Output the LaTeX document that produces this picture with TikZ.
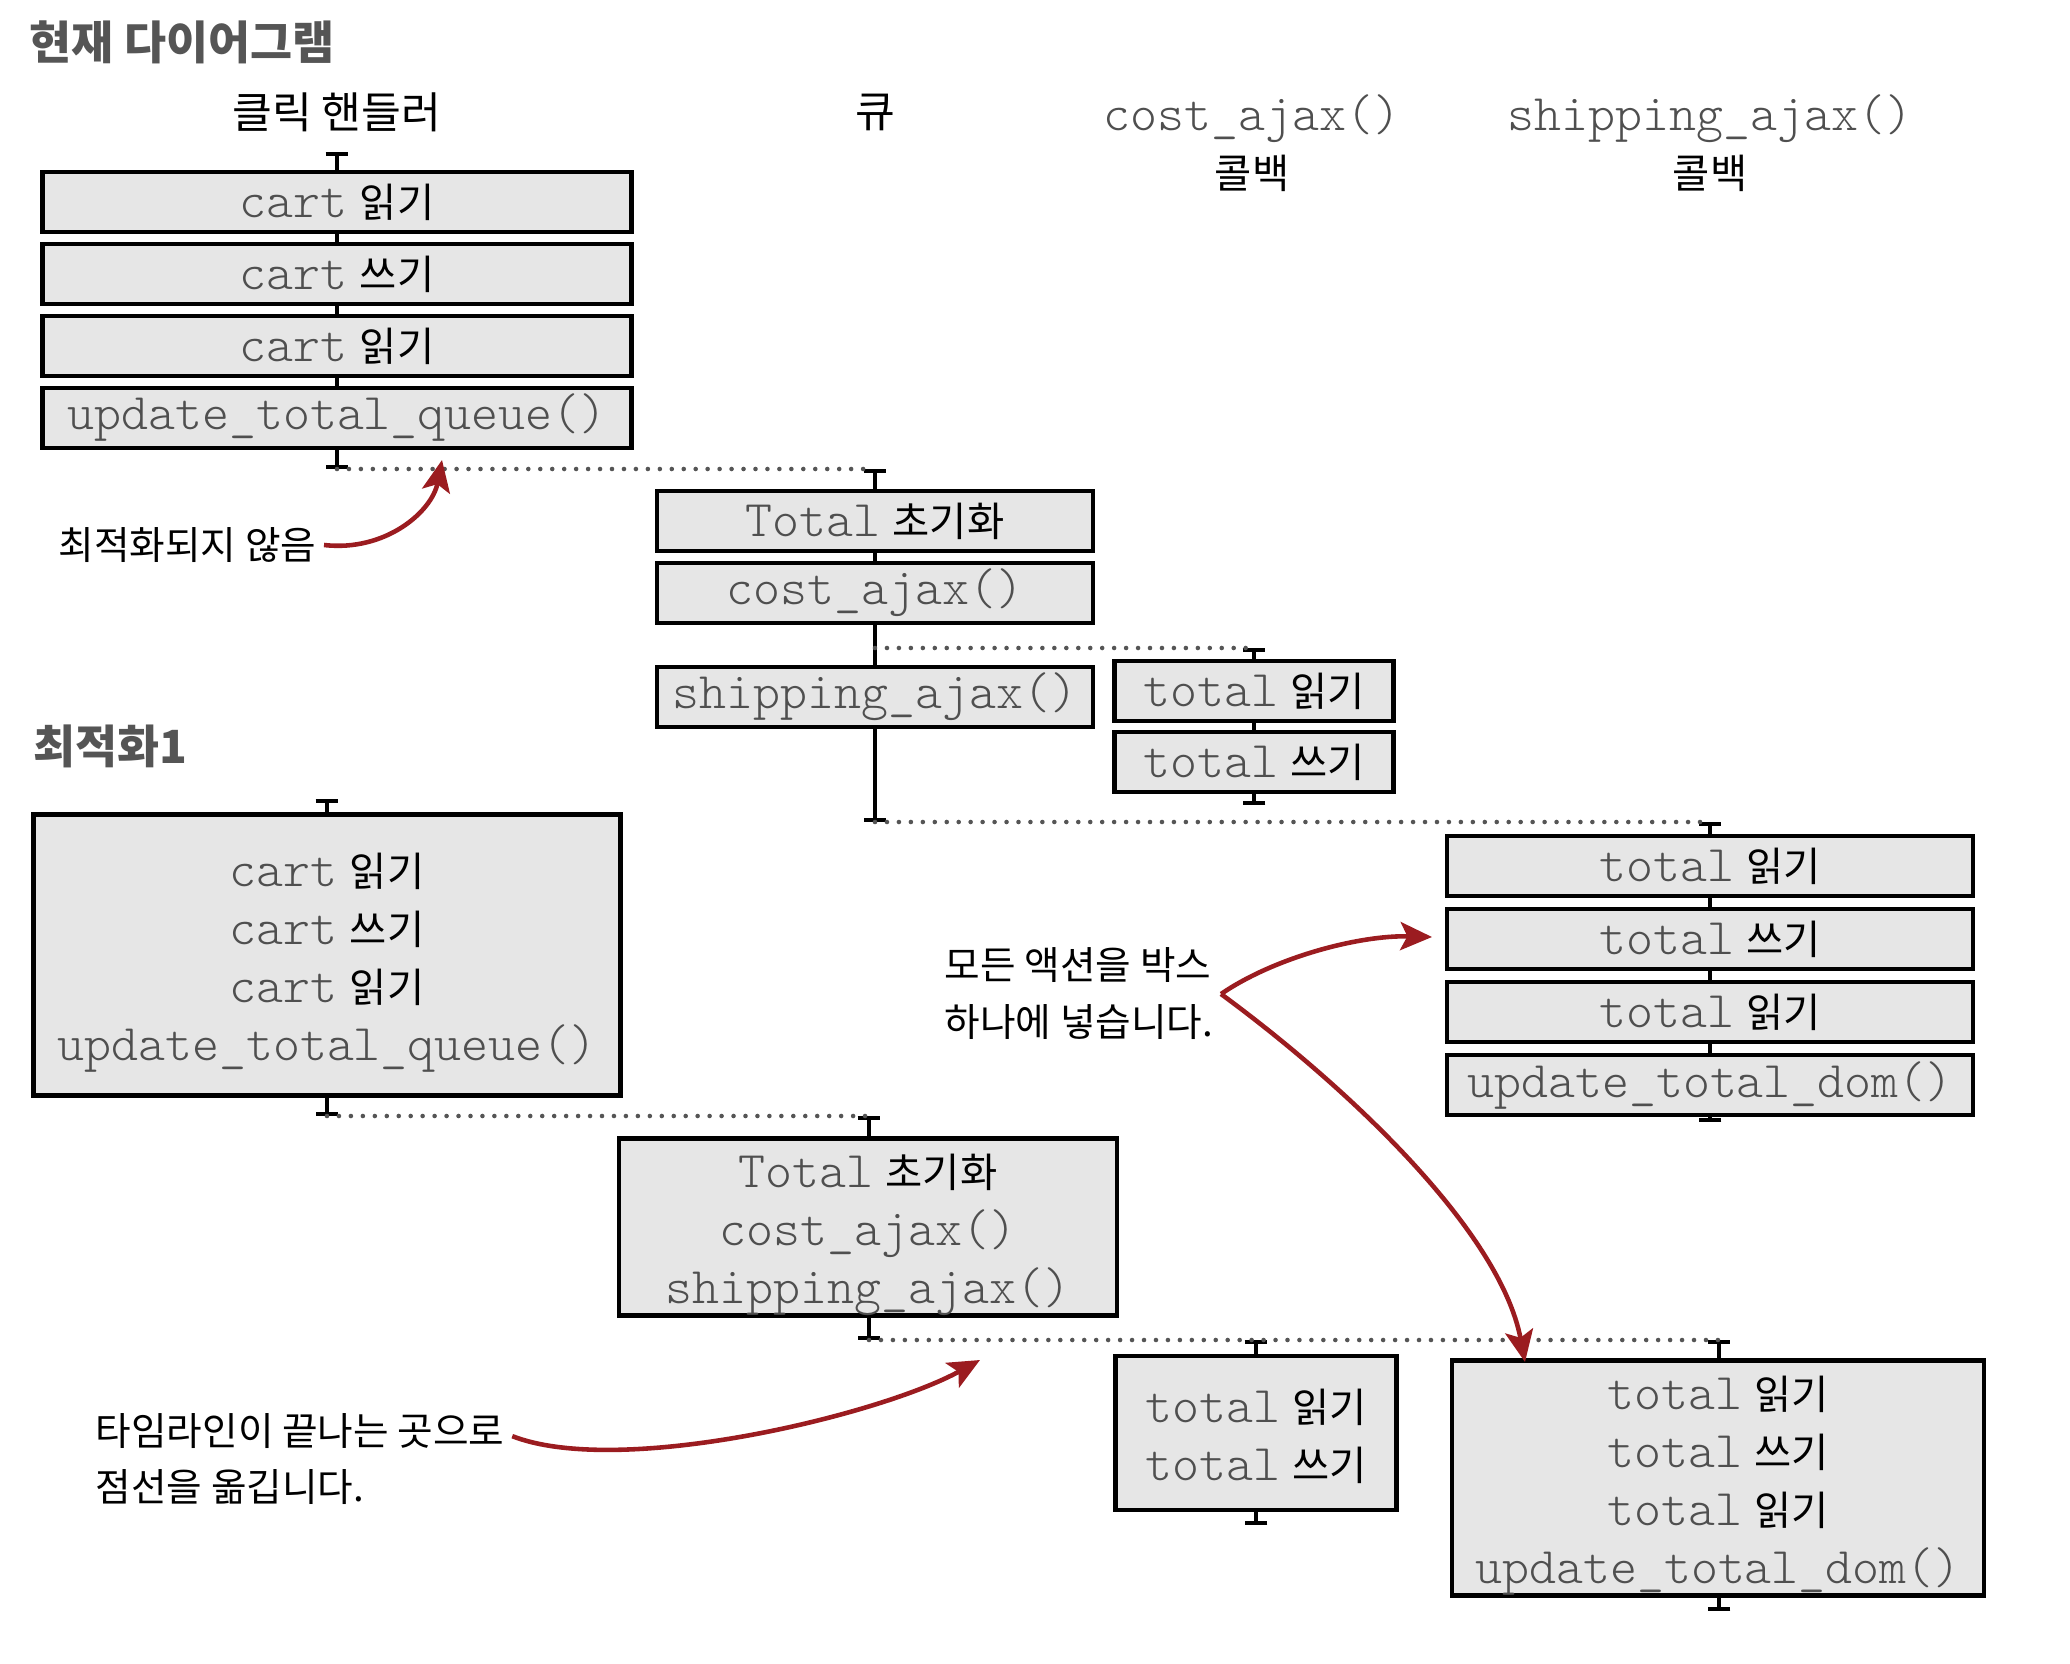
\documentclass[tikz,border=0pt]{standalone}
\usepackage{fontspec}
\setmainfont{Noto Sans CJK KR}
\newfontfamily\codefont[Scale=1.27]{Latin Modern Mono Light}
\usepackage{xcolor}
\usetikzlibrary{positioning,arrows.meta}

\definecolor{boxgray}{HTML}{E6E6E6}
\definecolor{codegray}{HTML}{4F4F4F}
\definecolor{headgray}{HTML}{555555}
\definecolor{notered}{HTML}{9B1C20}
\newcommand{\codetxt}[1]{{\codefont\color{codegray}#1}\hspace{3.5pt}}
\newcommand{\padtop}[1]{\rule{0pt}{#1}}

\begin{document}
\begin{tikzpicture}[x=0.01cm, y=-0.01cm,
    font=\fontsize{11.5}{16.5}\selectfont,
    act/.style={draw=black, line width=1.3pt, fill=boxgray, inner sep=0pt,
        minimum height=0.6cm, align=center},
    lane/.style={line width=1.1pt, {Bar[width=6.5pt]}-{Bar[width=6.5pt]}},
    handoff/.style={draw=headgray, line width=1.3pt, line cap=round,
        dash pattern=on 0pt off 3.4pt},
    heading/.style={font=\fontsize{13}{15}\selectfont\bfseries, text=headgray,
        anchor=west, inner sep=0pt},
    colhead/.style={align=center, inner sep=0pt},
    note/.style={font=\fontsize{11}{16.2}\selectfont, align=left, inner sep=2pt},
    pointer/.style={draw=notered, line width=1.3pt,
        -{Stealth[length=9pt, width=8pt, inset=2pt]}}]

    \useasboundingbox (0,0) rectangle (2070,1664);

    % Headings and column titles
    \node[heading] (cur) at (29,42) {현재 다이어그램};
    \node[heading] (opt) at (33,746) {최적화1};
    \node[colhead, font=\fontsize{12.3}{15}\selectfont] (hclick) at (337,112) {클릭 핸들러};
    \node[colhead, font=\fontsize{12.3}{15}\selectfont] (hqueue) at (875,112) {큐};
    \node[colhead] (hcost) at (1252,143) {{\codefont\color{codegray}cost\_ajax()}\\콜백};
    \node[colhead] (hship) at (1710,143) {{\codefont\color{codegray}shipping\_ajax()}\\콜백};

    % Timelines of the current diagram
    \coordinate (t1a) at (337,152);  \coordinate (t1b) at (337,469);
    \coordinate (t2a) at (875,469);  \coordinate (t2m) at (875,648);
    \coordinate (t2b) at (875,822);
    \coordinate (t3a) at (1254,648); \coordinate (t3b) at (1254,805);
    \coordinate (t4a) at (1710,822); \coordinate (t4b) at (1710,1122);
    \foreach \a/\b in {t1a/t1b, t2a/t2b, t3a/t3b, t4a/t4b}
        \draw[lane] (\a) -- (\b);

    % Dotted lines between timelines
    \draw[handoff] (t1b) -- (t2a);
    \draw[handoff] (t2m) -- (t3a);
    \draw[handoff] (t2b) -- (t4a);

    % Click handler actions
    \foreach \txt [count=\i] in {{\codetxt{cart}읽기}, {\codetxt{cart}쓰기},
            {\codetxt{cart}읽기}, {{\codefont\color{codegray}update\_total\_queue()}}}
        \node[act, minimum width=5.89cm] (c\i) at (337,{130+72*\i}) {\txt};

    % Queue actions
    \node[act, minimum width=4.36cm] (q1) at (875,521) {\codetxt{Total}초기화};
    \node[act, minimum width=4.36cm] (q2) at (875,593) {{\codefont\color{codegray}cost\_ajax()}};
    \node[act, minimum width=4.36cm] (q3) at (875,697) {{\codefont\color{codegray}shipping\_ajax()}};

    % cost_ajax() callback
    \node[act, minimum width=2.79cm] (k1) at (1254,691) {\codetxt{total}읽기};
    \node[act, minimum width=2.79cm] (k2) at (1254,762) {\codetxt{total}쓰기};

    % shipping_ajax() callback
    \foreach \txt [count=\i] in {{\codetxt{total}읽기}, {\codetxt{total}쓰기},
            {\codetxt{total}읽기}, {{\codefont\color{codegray}update\_total\_dom()}}}
        \node[act, minimum width=5.26cm] (s\i) at (1710,{793+73*\i}) {\txt};

    % Timelines of optimisation 1
    \coordinate (b1a) at (327,799);  \coordinate (b1b) at (327,1116);
    \coordinate (b2a) at (869,1116); \coordinate (b2b) at (869,1340);
    \coordinate (b3a) at (1256,1340); \coordinate (b3b) at (1256,1525);
    \coordinate (b4a) at (1719,1340); \coordinate (b4b) at (1719,1611);
    \foreach \a/\b in {b1a/b1b, b2a/b2b, b3a/b3b, b4a/b4b}
        \draw[lane] (\a) -- (\b);
    \draw[handoff] (b1b) -- (b2a);
    \draw[handoff] (b2b) -- (b4a);

    % One box per timeline
    \node[act, minimum width=5.87cm, minimum height=2.81cm] (bc) at (327,955)
        {\padtop{14pt}\codetxt{cart}읽기\\\codetxt{cart}쓰기\\\codetxt{cart}읽기\\
         {\codefont\color{codegray}update\_total\_queue()}};
    \node[act, minimum width=4.98cm, minimum height=1.77cm] (bq) at (868,1227)
        {\padtop{14pt}\codetxt{Total}초기화\\{\codefont\color{codegray}cost\_ajax()}\\
         {\codefont\color{codegray}shipping\_ajax()}};
    \node[act, minimum width=2.81cm, minimum height=1.54cm] (bk) at (1256,1433)
        {\padtop{11.5pt}\codetxt{total}읽기\\\codetxt{total}쓰기};
    \node[act, minimum width=5.32cm, minimum height=2.33cm] (bs) at (1718,1478)
        {\padtop{14pt}\codetxt{total}읽기\\\codetxt{total}쓰기\\\codetxt{total}읽기\\
         {\codefont\color{codegray}update\_total\_dom()}};

    % Notes and red arrows
    \node[note, anchor=east] (n1) at (324,545) {최적화되지 않음};
    \coordinate (n1tip) at (442,460);
    \draw[pointer] (n1.east) .. controls (385,552) and (432,512) .. (n1tip);

    \node[note, anchor=west] (n2) at (937,994) {모든 액션을 박스\\하나에 넣습니다.};
    \coordinate (n2tipa) at (1432,937);
    \coordinate (n2tipb) at (1525,1362);
    \draw[pointer] (n2.east) .. controls (1275,957) and (1360,935) .. (n2tipa);
    \draw[pointer] (n2.east) .. controls (1345,1085) and (1500,1230) .. (n2tipb);

    \node[note, anchor=west] (n3) at (88,1459) {타임라인이 끝나는 곳으로\\점선을 옮깁니다.};
    \coordinate (n3tip) at (980,1360);
    \draw[pointer] ([yshift=6.5pt]n3.east) .. controls (620,1478) and (880,1415) .. (n3tip);
\end{tikzpicture}
\end{document}
